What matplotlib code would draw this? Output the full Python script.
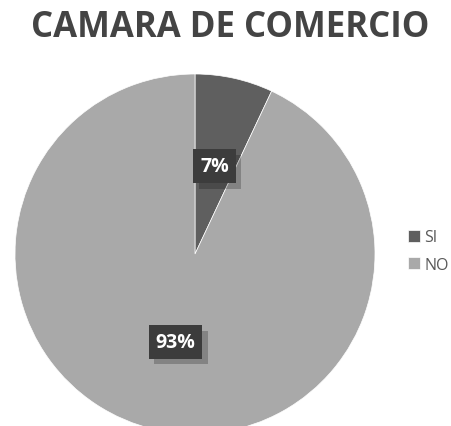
import matplotlib.pyplot as plt
import matplotlib.patheffects as pe

labels = ["SI", "NO"]
values = [7, 93]
colors = ["#5f5f5f", "#a9a9a9"]

fig = plt.figure(figsize=(4.51, 4.27), dpi=100)
ax = fig.add_axes([0, 0, 1, 1])

wedges, texts, autotexts = ax.pie(values, colors=colors, startangle=90, counterclock=False,
                                  center=(195, 172), radius=180, frame=True,
                                  autopct="%1.0f%%", pctdistance=0.5,
                                  wedgeprops=dict(edgecolor="white", linewidth=0.5))
ax.set_xlim(0, 451)
ax.set_ylim(0, 427)
ax.set_aspect("equal")
ax.axis("off")

for t in autotexts:
    t.set_color("white")
    t.set_fontsize(14)
    t.set_fontweight("bold")
    t.set_family("Open Sans")
    t.set_bbox(dict(boxstyle="square,pad=0.35", facecolor="#3c3c3c", edgecolor="none"))
    t.get_bbox_patch().set_path_effects([pe.SimplePatchShadow(offset=(4, -4), shadow_rgbFace="black", alpha=0.22),
                                         pe.Normal()])

fig.text(0.51, 0.935, "CAMARA DE COMERCIO", ha="center", va="center",
         fontsize=25, fontweight="bold", family="Open Sans", color="#444444")

leg = ax.legend(wedges, labels, loc="center left", bbox_to_anchor=(0.872, 0.41),
                bbox_transform=fig.transFigure, frameon=False, handlelength=0.75,
                handleheight=0.75, handletextpad=0.3, labelspacing=0.7,
                prop=dict(family="Open Sans", size=11.5))
for txt in leg.get_texts():
    txt.set_color("#595959")

fig.savefig("out.png", dpi=100, facecolor="white")
